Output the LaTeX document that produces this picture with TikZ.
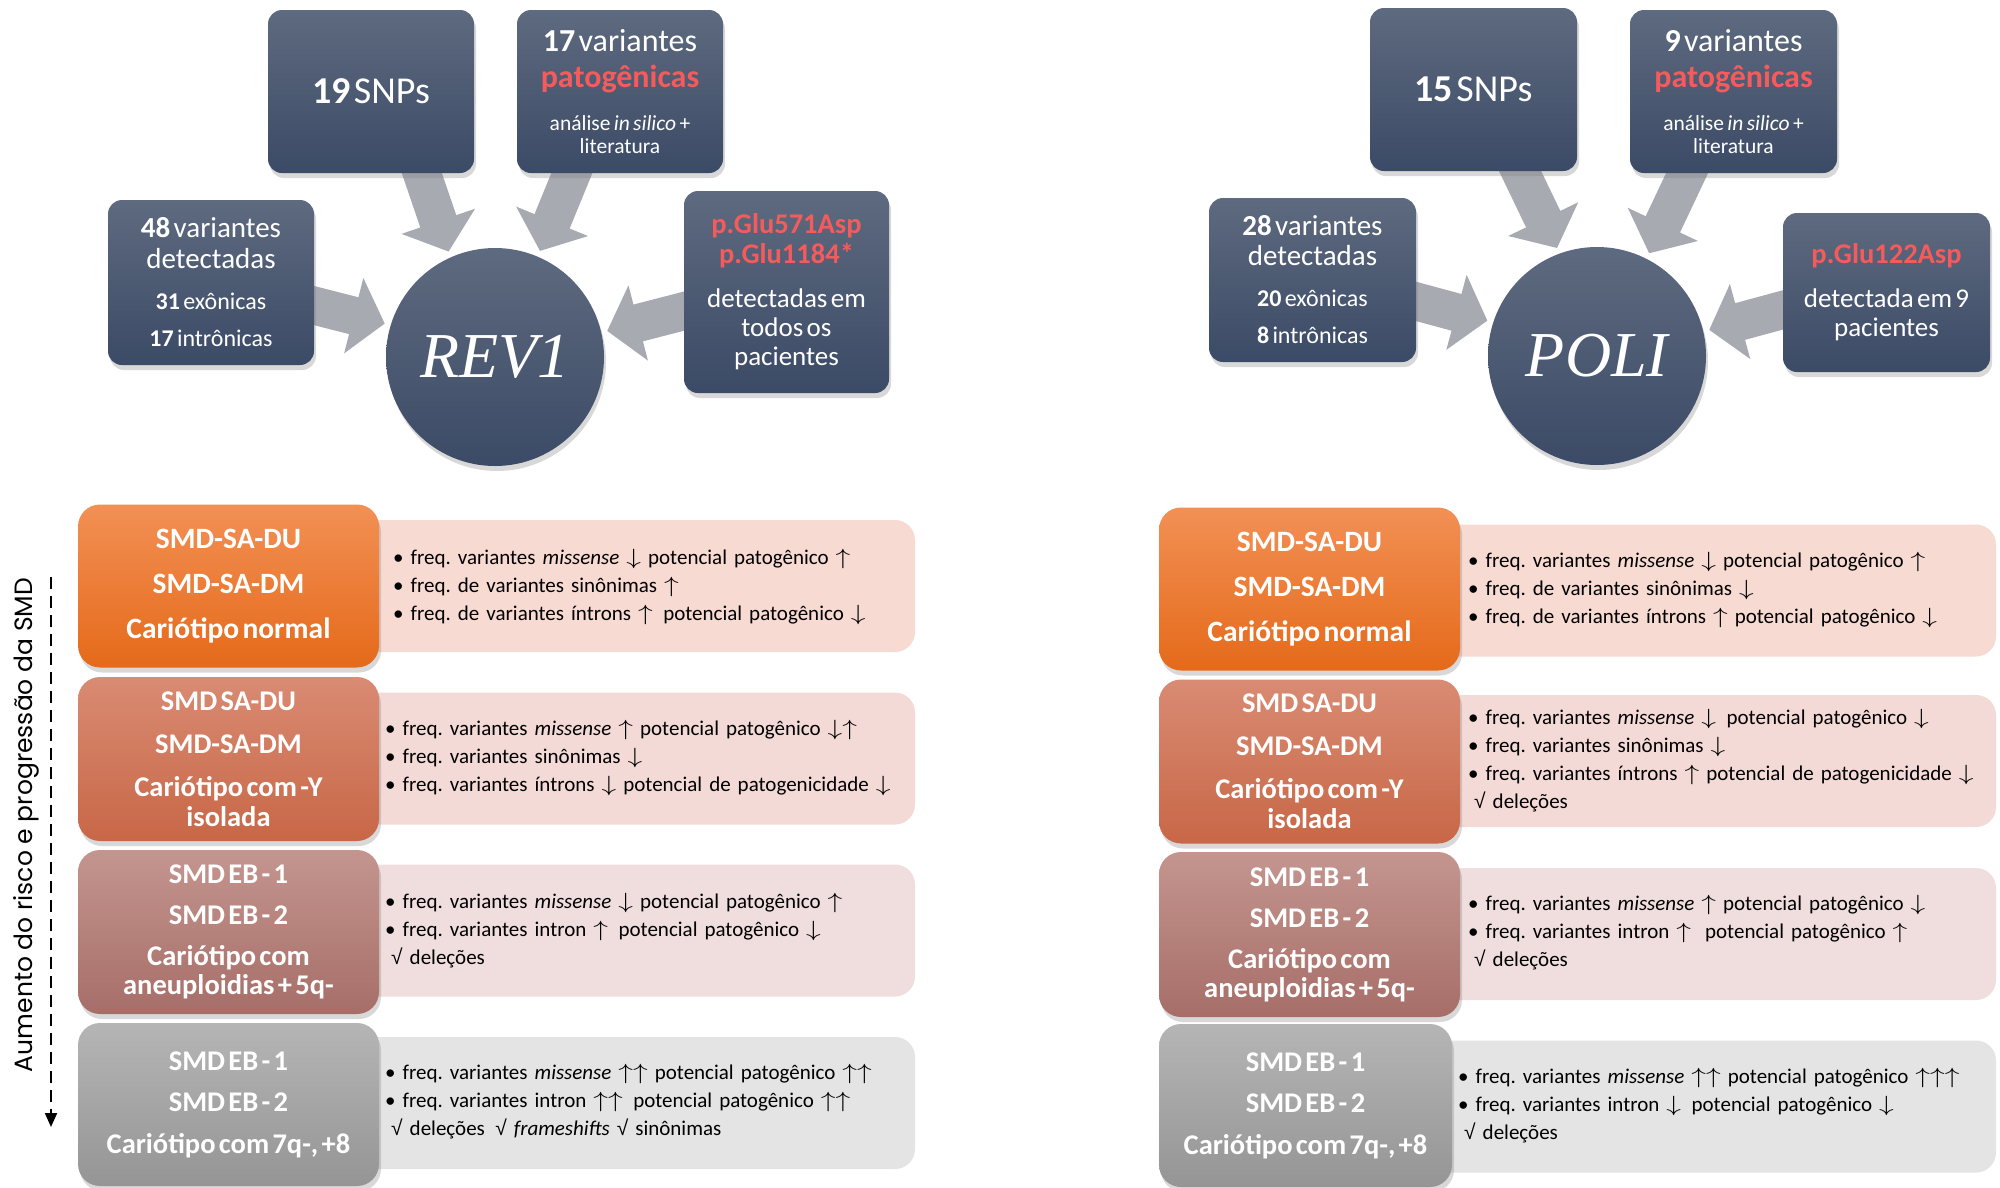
\RequirePackage{fix-cm}
\documentclass[tikz,border=0pt]{standalone}
\usepackage{fontspec}
\usepackage{graphicx}
\setmainfont{Carlito}[WordSpace=1.7]
\newfontfamily\timesf{Liberation Serif}
\newfontfamily\arrf{Liberation Sans}
\newfontfamily\popf{Poppins}
\usetikzlibrary{arrows.meta,shadows,calc}
\pgfdeclarelayer{bg}
\pgfsetlayers{bg,main}
\definecolor{boxtop}{HTML}{5E6A7F}
\definecolor{boxbot}{HTML}{3B4A66}
\definecolor{arrowgray}{HTML}{A7AAB1}
\definecolor{redt}{HTML}{F65B5B}
\definecolor{oAtop}{HTML}{F29055}\definecolor{oAbot}{HTML}{E56A1A}\definecolor{tA}{HTML}{F7DAD2}
\definecolor{oBtop}{HTML}{D98B73}\definecolor{oBbot}{HTML}{C86747}\definecolor{tB}{HTML}{F3DAD6}
\definecolor{oCtop}{HTML}{C4958F}\definecolor{oCbot}{HTML}{A76E68}\definecolor{tC}{HTML}{EFDEDD}
\definecolor{oDtop}{HTML}{B5B5B5}\definecolor{oDbot}{HTML}{959595}\definecolor{tD}{HTML}{E4E4E4}
\newcommand\myup{\scalebox{1.4}[1.05]{\ensuremath{\uparrow}}}
\newcommand\mydn{\scalebox{1.4}[1.05]{\ensuremath{\downarrow}}}
\newcommand\mychk{{\arrf √}}
\tikzset{
  darkbox/.style={rectangle, rounded corners=14pt, top color=boxtop, bottom color=boxbot,
    text=white, align=center, inner sep=0pt,
    drop shadow={shadow xshift=2pt, shadow yshift=-5pt, opacity=0.3}},
  hub/.style={circle, minimum size=218pt, inner sep=0pt, top color=boxtop, bottom color=boxbot,
    text=white, drop shadow={shadow xshift=2pt, shadow yshift=-5pt, opacity=0.3},
    font=\timesf\itshape\fontsize{64}{64}\selectfont},
  bigarrow/.style={line width=38pt, draw=arrowgray, -{Triangle[length=32pt,width=76pt]}, shorten >=6pt},
  rowbox/.style={rectangle, rounded corners=22pt, minimum width=301pt, text width=295pt,
    minimum height=163pt, align=center, inner sep=0pt, text=white,
    drop shadow={shadow xshift=2pt, shadow yshift=-5pt, opacity=0.3}},
  txtbox/.style={rectangle, rounded corners=20pt, minimum width=575pt, minimum height=132pt, inner sep=0pt},
  bodytxt/.style={anchor=west, text width=560pt, align=left, inner sep=0pt,
    font=\frenchspacing\fontsize{21}{28}\selectfont}
}
\begin{document}
\begin{tikzpicture}[x=1pt,y=-1pt]
\useasboundingbox (0,0) rectangle (2000,1187);
\begin{pgfonlayer}{bg}
\fill[white] (0,0) rectangle (2000,1187);
\end{pgfonlayer}

% ---------------- REV1 ----------------
\node[hub] (rev) at (495,357) {REV1};
\node[darkbox, minimum width=206pt, text width=206pt, minimum height=163pt] (snpL) at (371,91.5)
  {\fontsize{38}{40}\selectfont\textbf{19} SNPs\par};
\node[darkbox, minimum width=206pt, text width=206pt, minimum height=163pt] (patL) at (620,91.5)
  {\fontsize{32}{30}\selectfont\textbf{17} variantes\par
   \fontsize{32}{36}\selectfont{\bfseries\color{redt}patogênicas}\par
   \fontsize{21.5}{43}\selectfont análise \textit{in silico} +\par
   \fontsize{21.5}{23}\selectfont literatura\par};
\node[darkbox, minimum width=206pt, text width=206pt, minimum height=165pt] (detL) at (211,282.5)
  {\fontsize{29}{30}\selectfont\textbf{48} variantes\par
   \fontsize{29}{31}\selectfont detectadas\par
   \fontsize{24}{41}\selectfont\textbf{31} exônicas\par
   \fontsize{24}{37}\selectfont\textbf{17} intrônicas\par};
\node[darkbox, minimum width=205pt, text width=205pt, minimum height=202pt] (gluL) at (786.5,292)
  {\fontsize{28.5}{30}\selectfont{\bfseries\color{redt}p.Glu571Asp}\par
   {\bfseries\color{redt}p.Glu1184*}\par
   \fontsize{27}{44}\selectfont detectadas em\par
   \fontsize{27}{29}\selectfont todos os\par pacientes\par};

% ---------------- POLI ----------------
\node[hub] (poli) at (1597,356) {POLI};
\node[darkbox, minimum width=207pt, text width=207pt, minimum height=163pt] (snpR) at (1473.5,89.5)
  {\fontsize{38}{40}\selectfont\textbf{15} SNPs\par};
\node[darkbox, minimum width=207pt, text width=207pt, minimum height=163pt] (patR) at (1733.5,91.5)
  {\fontsize{32}{30}\selectfont\textbf{9} variantes\par
   \fontsize{32}{36}\selectfont{\bfseries\color{redt}patogênicas}\par
   \fontsize{21.5}{43}\selectfont análise \textit{in silico} +\par
   \fontsize{21.5}{23}\selectfont literatura\par};
\node[darkbox, minimum width=207pt, text width=207pt, minimum height=164pt] (detR) at (1312.5,280)
  {\fontsize{29}{30}\selectfont\textbf{28} variantes\par
   \fontsize{29}{30}\selectfont detectadas\par
   \fontsize{24}{41}\selectfont\textbf{20} exônicas\par
   \fontsize{24}{37}\selectfont\textbf{8} intrônicas\par};
\node[darkbox, minimum width=207pt, text width=207pt, minimum height=159pt] (gluR) at (1886.5,292.5)
  {\fontsize{28.5}{30}\selectfont{\bfseries\color{redt}p.Glu122Asp}\par
   \fontsize{27}{44}\selectfont detectada em 9\par
   \fontsize{27}{29}\selectfont pacientes\par};

% block arrows behind the boxes
\begin{pgfonlayer}{bg}
\draw[bigarrow] ($(snpL.south)+(44,-20)$) -- (rev.114);
\draw[bigarrow] ($(patL.south)+(-40,-20)$) -- (rev.67);
\draw[bigarrow] ($(detL.east)+(-20,18)$) -- (rev.163);
\draw[bigarrow] ($(gluL.west)+(20,14)$) -- (rev.13);
\draw[bigarrow] ($(snpR.south)+(37,-20)$) -- (poli.110);
\draw[bigarrow] ($(patR.south)+(-37,-20)$) -- (poli.63);
\draw[bigarrow] ($(detR.east)+(-20,16)$) -- (poli.162);
\draw[bigarrow] ($(gluR.west)+(20,12)$) -- (poli.13);
\end{pgfonlayer}

% ---------------- risk axis ----------------
\coordinate (axtop) at (51,577);
\coordinate (axbot) at (51,1127);
\draw[line width=2pt, dash pattern=on 12pt off 7pt, -{Triangle[length=14pt,width=12pt]}] (axtop) -- (axbot);
\node[rotate=90, inner sep=0pt, font=\popf\fontsize{25}{25}\selectfont] (axlab) at (26,825)
  {Aumento do risco e progressão da SMD};

% ---------------- left rows ----------------
\node[txtbox, fill=tA] (tL1) at (627.5,586) {};
\node[txtbox, fill=tB] (tL2) at (627.5,758.5) {};
\node[txtbox, fill=tC] (tL3) at (627.5,930.5) {};
\node[txtbox, fill=tD] (tL4) at (627.5,1103) {};

\node[rowbox, top color=oAtop, bottom color=oAbot] (bL1) at (228.5,586)
  {\bfseries\fontsize{29.5}{45}\selectfont SMD-SA-DU\par SMD-SA-DM\par Cariótipo normal\par};
\node[rowbox, top color=oBtop, bottom color=oBbot, minimum height=164pt] (bL2) at (228.5,759)
  {\bfseries\fontsize{28.5}{43}\selectfont SMD SA-DU\par SMD-SA-DM\par Cariótipo com -Y\par
   \fontsize{28.5}{30}\selectfont isolada\par};
\node[rowbox, top color=oCtop, bottom color=oCbot, minimum height=164pt] (bL3) at (228.5,932)
  {\bfseries\fontsize{28.5}{41}\selectfont SMD EB - 1\par SMD EB - 2\par Cariótipo com\par
   \fontsize{28.5}{29}\selectfont aneuploidias + 5q-\par};
\node[rowbox, top color=oDtop, bottom color=oDbot] (bL4) at (228.5,1104.5)
  {\bfseries\fontsize{28.5}{41.5}\selectfont SMD EB - 1\par SMD EB - 2\par Cariótipo com 7q-, +8\par};

\node[bodytxt] (xL1) at (393,587)
  {• freq. variantes \textit{missense} \mydn{} potencial patogênico \myup\\
   • freq. de variantes sinônimas \myup\\
   • freq. de variantes íntrons \myup{}\, potencial patogênico \mydn};
\node[bodytxt] (xL2) at (385,758)
  {• freq. variantes \textit{missense} \myup{} potencial patogênico \mydn\myup\\
   • freq. variantes sinônimas \mydn\\
   • freq. variantes íntrons \mydn{} potencial de patogenicidade \mydn};
\node[bodytxt] (xL3) at (385,930.5)
  {• freq. variantes \textit{missense} \mydn{} potencial patogênico \myup\\
   • freq. variantes intron \myup{}\, potencial patogênico \mydn\\
   \hspace*{6pt}\mychk{} deleções};
\node[bodytxt] (xL4) at (385,1102)
  {• freq. variantes \textit{missense} \myup\myup{} potencial patogênico \myup\myup\\
   • freq. variantes intron \myup\myup{}\, potencial patogênico \myup\myup\\
   \hspace*{6pt}\mychk{} deleções\, \mychk{} \textit{frameshifts} \mychk{} sinônimas};

% ---------------- right rows ----------------
\node[txtbox, fill=tA, minimum width=571pt] (tR1) at (1710.5,590.5) {};
\node[txtbox, fill=tB, minimum width=571pt] (tR2) at (1710.5,761) {};
\node[txtbox, fill=tC, minimum width=571pt] (tR3) at (1710.5,934) {};
\node[txtbox, fill=tD, minimum width=571pt] (tR4) at (1710.5,1106.5) {};

\node[rowbox, top color=oAtop, bottom color=oAbot] (bR1) at (1309.5,589)
  {\bfseries\fontsize{29.5}{45}\selectfont SMD-SA-DU\par SMD-SA-DM\par Cariótipo normal\par};
\node[rowbox, top color=oBtop, bottom color=oBbot, minimum height=164pt] (bR2) at (1309.5,761.5)
  {\bfseries\fontsize{28.5}{43}\selectfont SMD SA-DU\par SMD-SA-DM\par Cariótipo com -Y\par
   \fontsize{28.5}{30}\selectfont isolada\par};
\node[rowbox, top color=oCtop, bottom color=oCbot, minimum height=165pt] (bR3) at (1309.5,934.5)
  {\bfseries\fontsize{28.5}{41}\selectfont SMD EB - 1\par SMD EB - 2\par Cariótipo com\par
   \fontsize{28.5}{29}\selectfont aneuploidias + 5q-\par};
\node[rowbox, top color=oDtop, bottom color=oDbot, minimum width=293pt, text width=290pt] (bR4) at (1305.5,1105.5)
  {\bfseries\fontsize{28.5}{41.5}\selectfont SMD EB - 1\par SMD EB - 2\par Cariótipo com 7q-, +8\par};

\node[bodytxt] (xR1) at (1468,590)
  {• freq. variantes \textit{missense} \mydn{} potencial patogênico \myup\\
   • freq. de variantes sinônimas \mydn\\
   • freq. de variantes íntrons \myup{} potencial patogênico \mydn};
\node[bodytxt] (xR2) at (1468,761)
  {• freq. variantes \textit{missense} \mydn{}\, potencial patogênico \mydn\\
   • freq. variantes sinônimas \mydn\\
   • freq. variantes íntrons \myup{} potencial de patogenicidade \mydn\\
   \hspace*{6pt}\mychk{} deleções};
\node[bodytxt] (xR3) at (1468,933)
  {• freq. variantes \textit{missense} \myup{} potencial patogênico \mydn\\
   • freq. variantes intron \myup{}\,\, potencial patogênico \myup\\
   \hspace*{6pt}\mychk{} deleções};
\node[bodytxt] (xR4) at (1458,1105.5)
  {• freq. variantes \textit{missense} \myup\myup{} potencial patogênico \myup\myup\myup\\
   • freq. variantes intron \mydn{}\, potencial patogênico \mydn\\
   \hspace*{6pt}\mychk{} deleções};
\end{tikzpicture}
\end{document}
